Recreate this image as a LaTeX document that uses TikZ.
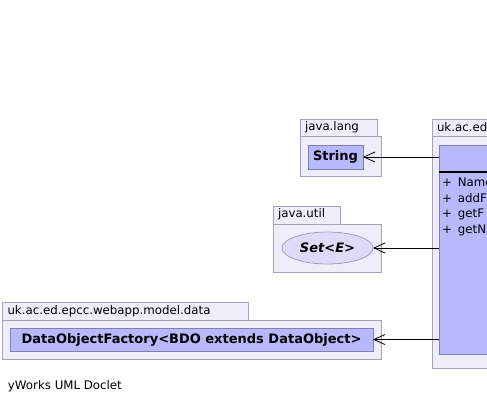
\documentclass[tikz,border=0pt]{standalone}
\usepackage{fontspec}
\setmainfont{DejaVu Sans}
\usetikzlibrary{arrows.meta,shapes.geometric}
\definecolor{pkgfill}{HTML}{EEEEFB}
\definecolor{pkgdraw}{HTML}{A4A4B8}
\definecolor{clsfill}{HTML}{B8B8FC}
\definecolor{clsdraw}{HTML}{8080B0}
\definecolor{ifill}{HTML}{DCDCF8}
\definecolor{idraw}{HTML}{A0A0C8}
\tikzset{
  x=1pt, y=-1pt,
  every node/.style={font=\fontsize{11.8}{14}\selectfont, inner sep=0pt, outer sep=0pt},
  pkg/.style={draw=pkgdraw, fill=pkgfill, line width=0.8pt},
  pkglabel/.style={anchor=west},
  clsbox/.style={draw=clsdraw, fill=clsfill, line width=0.8pt, rectangle, font=\fontsize{13}{15}\selectfont\bfseries},
  ifcbox/.style={draw=idraw, fill=ifill, line width=0.8pt, ellipse, font=\fontsize{13}{15}\selectfont\bfseries\itshape},
  dep/.style={-{Straight Barb[length=11pt,width=10pt,line width=0.8pt]}, line width=0.9pt, black},
  member/.style={anchor=west}
}
\begin{document}
\begin{tikzpicture}
\useasboundingbox (0,0) rectangle (487,405);
\clip (0,0) rectangle (487,405);
% java.lang package
\draw[pkg] (300,119) rectangle (377,136);
\draw[pkg] (300,136) rectangle (381,176);
\node[pkglabel] (langlbl) at (305,127.5) {java.lang};
\node[clsbox, minimum width=55pt, minimum height=24pt] (string) at (335.5,157) {String};
% java.util package
\draw[pkg] (273,206) rectangle (340,224);
\draw[pkg] (273,224) rectangle (381,272);
\node[pkglabel] (utillbl) at (278,214.5) {java.util};
\node[ifcbox, minimum width=91pt, minimum height=32pt] (set) at (327.5,248) {Set<E>};
% data package
\draw[pkg] (2,302) rectangle (248,320);
\draw[pkg] (2,320) rectangle (381,359);
\node[pkglabel] (datalbl) at (7.5,311) {uk.ac.ed.epcc.webapp.model.data};
\node[clsbox, minimum width=363pt, minimum height=23pt] (factory) at (191.5,339.5) {DataObjectFactory<BDO extends DataObject>};
% main package (cut off at right)
\draw[pkg] (432,119) rectangle (520,136);
\draw[pkg] (432,136) rectangle (540,368);
\node[pkglabel] (mainlbl) at (437,127.5) {uk.ac.ed};
\node[draw=clsdraw, fill=clsfill, line width=0.8pt, minimum width=110pt, minimum height=209pt, anchor=north west] (main) at (439,145) {};
\draw[line width=2pt, black] (439,172) -- (540,172);
\node[member] (m1) at (442,182.5) {+\hspace{6pt}Name};
\node[member] (m2) at (442,198) {+\hspace{6pt}addF};
\node[member] (m3) at (442,214) {+\hspace{6pt}getF};
\node[member] (m4) at (442,230) {+\hspace{6pt}getN};
% dependencies
\draw[dep] (main.west |- string.east) -- (string.east);
\draw[dep] (main.west |- set.east) -- (set.east);
\draw[dep] (main.west |- factory.east) -- (factory.east);
% footer
\node[anchor=west] (footer) at (8,386.5) {yWorks UML Doclet};
\end{tikzpicture}
\end{document}
